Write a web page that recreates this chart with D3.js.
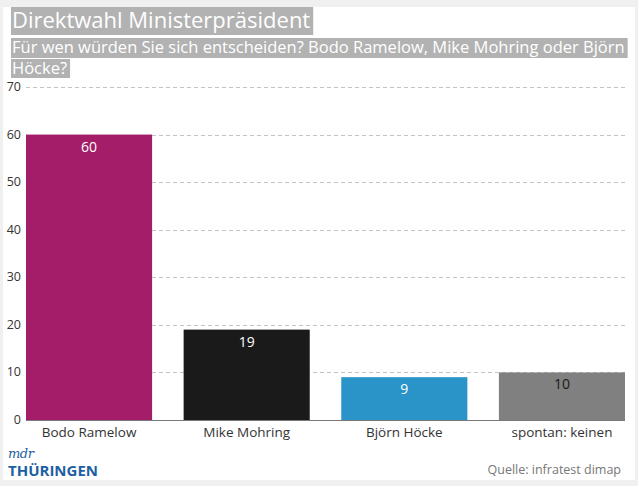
<!DOCTYPE html>
<html><head><meta charset="utf-8">
<script src="https://cdn.jsdelivr.net/npm/d3@7"></script>
<style>
html,body{margin:0;padding:0;background:#f0f0f0;}
svg{display:block;font-family:"Open Sans",sans-serif;}
</style></head>
<body>
<svg id="c" width="638" height="486"></svg>
<script>
const categories = ["Bodo Ramelow", "Mike Mohring", "Björn Höcke", "spontan: keinen"];
const values = [60, 19, 9, 10];
const colors = ["#a31d68", "#1a1a1a", "#2a94c9", "#808080"];
const labelColors = ["#ffffff", "#ffffff", "#ffffff", "#1a1a1a"];
const yTicks = [0, 10, 20, 30, 40, 50, 60, 70];
const title = "Direktwahl Ministerpräsident";
const subtitleLines = ["Für wen würden Sie sich entscheiden? Bodo Ramelow, Mike Mohring oder Björn", "Höcke?"];
const source = "Quelle: infratest dimap";

const svg = d3.select("#c");
svg.append("rect").attr("x", 3).attr("y", 7).attr("width", 632).attr("height", 473).attr("fill", "#fff");

// title
{
  const g = svg.append("g");
  const r = g.append("rect").attr("fill", "#b2b2b2");
  const t = g.append("text").attr("x", 12).attr("y", 28).attr("font-size", 22)
    .attr("fill", "#fff").text(title);
  const w = t.node().getComputedTextLength();
  r.attr("x", 11).attr("y", 7).attr("width", w + 4).attr("height", 28);
}
// subtitle (one text, two lines)
{
  const g = svg.append("g");
  const rects = g.append("g");
  const t = g.append("text").attr("font-size", 16.5).attr("fill", "#fff");
  const baselines = [53, 74];
  const boxes = [[38, 20], [59, 19]];
  subtitleLines.forEach((line, i) => {
    const ts = t.append("tspan").attr("x", 12).attr("y", baselines[i]).text(line);
    const w = ts.node().getComputedTextLength();
    rects.append("rect").attr("fill", "#b2b2b2").attr("x", 11).attr("y", boxes[i][0])
      .attr("width", w + 4).attr("height", boxes[i][1]);
  });
}

const y = d3.scaleLinear().domain([0, 70]).range([420, 87]);
const x = d3.scaleBand().domain(categories).range([26, 625]).paddingInner(0.2).paddingOuter(0);

// grid
svg.append("g").selectAll("line").data(yTicks.filter(d => d > 0)).join("line")
  .attr("x1", 26).attr("x2", 625)
  .attr("y1", d => Math.round(y(d)) + 0.5).attr("y2", d => Math.round(y(d)) + 0.5)
  .attr("stroke", "#c4c4c4").attr("stroke-dasharray", "4,3");

svg.append("g").selectAll("text").data(yTicks).join("text")
  .attr("x", 21).attr("y", d => y(d) + 4).attr("text-anchor", "end")
  .attr("font-size", 12.5).attr("fill", "#333").text(d => d);

svg.append("g").selectAll("rect").data(values).join("rect")
  .attr("x", (d, i) => x(categories[i])).attr("width", x.bandwidth())
  .attr("y", d => y(d)).attr("height", d => y(0) - y(d))
  .attr("fill", (d, i) => colors[i]);

svg.append("line").attr("x1", 26).attr("x2", 625).attr("y1", 420.5).attr("y2", 420.5)
  .attr("stroke", "#7a7a7a").attr("stroke-width", 1);

svg.append("g").selectAll("text").data(values).join("text")
  .attr("x", (d, i) => x(categories[i]) + x.bandwidth() / 2)
  .attr("y", d => y(d) + 17).attr("text-anchor", "middle")
  .attr("font-size", 14).attr("fill", (d, i) => labelColors[i]).text(d => d);

svg.append("g").selectAll("text").data(categories).join("text")
  .attr("x", d => x(d) + x.bandwidth() / 2).attr("y", 437).attr("text-anchor", "middle")
  .attr("font-size", 13.5).attr("fill", "#333").text(d => d);

svg.append("text").attr("x", 621).attr("y", 474).attr("text-anchor", "end")
  .attr("font-size", 12.5).attr("fill", "#777").text(source);

// logo
svg.append("text").attr("x", 8).attr("y", 458).attr("font-size", 13).attr("font-style", "italic")
  .attr("font-family", "DejaVu Serif, serif").attr("fill", "#1d5fa3").attr("letter-spacing", -0.5).text("mdr");
svg.append("text").attr("x", 8).attr("y", 475.5).attr("font-size", 15).attr("font-weight", "bold")
  .attr("font-family", "Open Sans, sans-serif").attr("fill", "#1d5fa3").text("THÜRINGEN");
</script>
</body></html>
